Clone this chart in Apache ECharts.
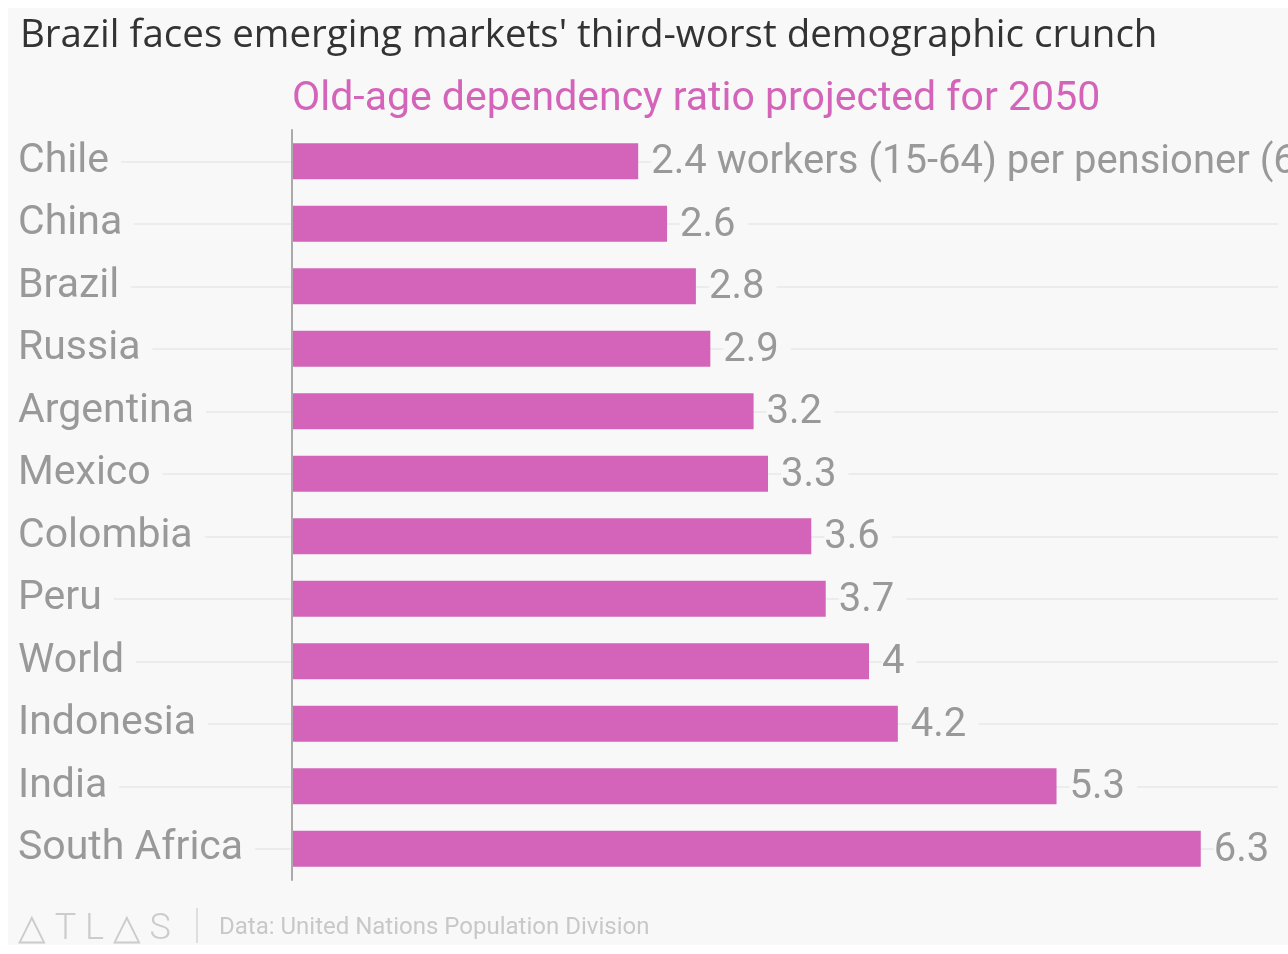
<!DOCTYPE html>
<html>
<head>
<meta charset="utf-8">
<script src="https://cdn.jsdelivr.net/npm/echarts@6/dist/echarts.min.js"></script>
<style>
  html, body { margin: 0; padding: 0; background: #ffffff; }
  #wrap { position: relative; width: 1288px; height: 954px; background: #ffffff; overflow: hidden; }
  #chart { position: absolute; left: 8px; top: 8px; width: 1280px; height: 937px; }
</style>
</head>
<body>
<div id="wrap"><div id="chart"></div></div>
<script>
const titleText = "Brazil faces emerging markets' third-worst demographic crunch";
const subtitleText = "Old-age dependency ratio projected for 2050";
const sourceText = "Data: United Nations Population Division";
const categories = ["Chile", "China", "Brazil", "Russia", "Argentina", "Mexico", "Colombia", "Peru", "World", "Indonesia", "India", "South Africa"];
const values = [2.4, 2.6, 2.8, 2.9, 3.2, 3.3, 3.6, 3.7, 4, 4.2, 5.3, 6.3];
const firstLabelSuffix = " workers (15-64) per pensioner (65+)";

const chart = echarts.init(document.getElementById('chart'), null, { renderer: 'canvas' });
const FONT = 'Roboto, "Noto Sans", sans-serif';

chart.setOption({
  backgroundColor: '#f8f8f8',
  animation: false,
  title: [
    { text: titleText, left: 12, top: 9, padding: 0,
      textStyle: { fontFamily: '"Open Sans", Roboto, sans-serif', fontSize: 38.5, fontWeight: 'normal', color: '#333333' } },
    { text: subtitleText, left: 284, top: 71, padding: 0,
      textStyle: { fontFamily: FONT, fontSize: 41, fontWeight: 'normal', color: '#d364b9' } }
  ],
  grid: { left: 10, right: 10, top: 122, bottom: 65, containLabel: false, outerBoundsMode: 'none' },
  xAxis: { type: 'value', min: -1.8995, max: 6.8354, show: false },
  yAxis: {
    type: 'category', data: categories, inverse: true, z: 3,
    axisLine: { show: true, onZero: true, lineStyle: { color: '#aaaaaa', width: 2 } },
    axisTick: { show: false },
    splitLine: { show: false },
    axisLabel: {
      margin: 0, align: 'left', color: '#999999', fontFamily: FONT, fontSize: 41,
      backgroundColor: '#f8f8f8', padding: [4, 12, 4, 0]
    }
  },
  series: [
    {
      type: 'line', data: [], silent: true, z: 1,
      markLine: {
        z: 1, silent: true, symbol: ['none', 'none'], animation: false,
        label: { show: false },
        lineStyle: { type: 'solid', color: '#ececec', width: 2 },
        emphasis: { disabled: true },
        data: categories.map((c, i) => ({ yAxis: i }))
      }
    },
    {
      type: 'bar', data: values, barWidth: 36, z: 2,
      itemStyle: { color: '#d364b9' },
      emphasis: { disabled: true },
      label: {
        show: true, position: 'right', distance: 13, offset: [0, 2],
        color: '#999999', fontFamily: FONT, fontSize: 40,
        backgroundColor: '#f8f8f8', padding: [4, 12, 4, 0],
        formatter: p => p.dataIndex === 0 ? p.value + firstLabelSuffix : String(p.value)
      }
    }
  ],
  graphic: [
    { type: 'text', left: 10, top: 904,
      style: { text: '△ T L △ S', font: '300 36px ' + FONT, fill: '#cccccc' } },
    { type: 'line', shape: { x1: 189, y1: 900, x2: 189, y2: 935 },
      style: { stroke: '#d6d6d6', lineWidth: 1.5 } },
    { type: 'text', left: 211, top: 908,
      style: { text: sourceText, font: '24px ' + FONT, fill: '#c8c8c8' } }
  ]
});
</script>
</body>
</html>
